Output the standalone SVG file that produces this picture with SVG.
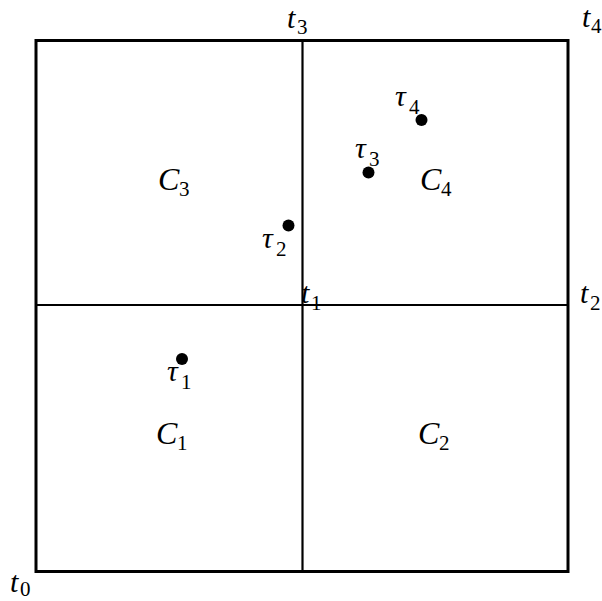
<svg xmlns="http://www.w3.org/2000/svg" width="602" height="601" viewBox="0 0 602 601">
<style>
.m{font-family:"Liberation Serif","DejaVu Serif",serif;font-style:italic;font-size:30px;fill:#000}
.c{font-family:"Liberation Serif","DejaVu Serif",serif;font-style:italic;font-size:32px;fill:#000}
.s{font-family:"Liberation Serif","DejaVu Serif",serif;font-style:normal;font-size:21px;fill:#000}
.dot{fill:#000}
</style>
<rect width="602" height="601" fill="#fff"/>
<g id="connectors" stroke="#000" fill="none">
<rect x="36" y="40.5" width="532" height="531" stroke-width="3"/>
<line x1="302.5" y1="40.5" x2="302.5" y2="571.5" stroke-width="2.2"/>
<line x1="36" y1="305" x2="568" y2="305" stroke-width="2.2"/>
</g>
<g id="t0"><text class="m" x="10" y="592">t</text><text class="s" x="20" y="596">0</text></g>
<g id="t1"><text class="m" x="301" y="303">t</text><text class="s" x="311" y="310">1</text></g>
<g id="t2"><text class="m" x="580" y="303">t</text><text class="s" x="590" y="310">2</text></g>
<g id="t3"><text class="m" x="287" y="28">t</text><text class="s" x="297" y="34">3</text></g>
<g id="t4"><text class="m" x="582" y="27">t</text><text class="s" x="591" y="33">4</text></g>
<g id="C1"><text class="c" x="156" y="444">C</text><text class="s" x="177" y="450">1</text></g>
<g id="C2"><text class="c" x="418" y="444">C</text><text class="s" x="439" y="450">2</text></g>
<g id="C3"><text class="c" x="158" y="190">C</text><text class="s" x="179" y="196">3</text></g>
<g id="C4"><text class="c" x="420" y="190">C</text><text class="s" x="441" y="196">4</text></g>
<g id="tau1"><circle class="dot" cx="182" cy="359" r="6"/><text class="m" x="167" y="381">τ</text><text class="s" x="181" y="389">1</text></g>
<g id="tau2"><circle class="dot" cx="288.5" cy="225.5" r="6"/><text class="m" x="262" y="248">τ</text><text class="s" x="276" y="256">2</text></g>
<g id="tau3"><circle class="dot" cx="368.5" cy="172.5" r="6"/><text class="m" x="355" y="158">τ</text><text class="s" x="369" y="166">3</text></g>
<g id="tau4"><circle class="dot" cx="421.5" cy="120" r="6"/><text class="m" x="395" y="106">τ</text><text class="s" x="409" y="114">4</text></g>
</svg>
